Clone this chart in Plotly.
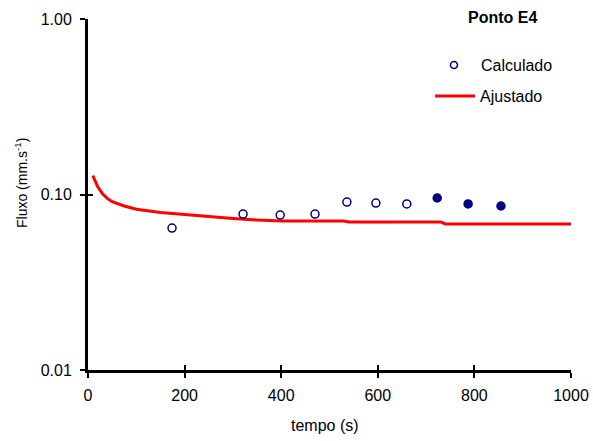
import plotly.graph_objects as go

# Data
calc_t = [174, 321, 398, 470, 536, 596, 660, 723, 787, 855]
calc_v = [0.0644, 0.0774, 0.0764, 0.0774, 0.0906, 0.0894, 0.0883, 0.0955, 0.0883, 0.0860]
calc_filled = [False, False, False, False, False, False, False, True, True, True]

fit_t = [10, 15, 20, 25, 30, 40, 50, 75, 100, 150, 200, 250, 300, 350, 400, 530, 540, 730, 740, 1000]
fit_v = [0.128, 0.118, 0.111, 0.106, 0.101, 0.095, 0.091, 0.086, 0.0825, 0.079, 0.077, 0.0745,
         0.073, 0.0715, 0.0707, 0.0707, 0.0698, 0.0698, 0.068, 0.068]

x_ticks = [0, 200, 400, 600, 800, 1000]
y_ticks = [0.01, 0.1, 1.0]
y_tick_labels = ["0.01", "0.10", "1.00"]

W, H = 593, 441
L, R, T, B = 88, 22, 19, 71

navy = "#000080"
font = "Liberation Sans, Arial, sans-serif"

fig = go.Figure()

fig.add_trace(go.Scatter(
    x=fit_t, y=fit_v, mode="lines", name="Ajustado",
    line=dict(color="#FF0000", width=3), showlegend=False))

fig.add_trace(go.Scatter(
    x=calc_t, y=calc_v, mode="markers", name="Calculado",
    marker=dict(symbol="circle", size=8,
                color=[navy if f else "white" for f in calc_filled],
                line=dict(color=navy, width=1.5)),
    showlegend=False))

# invisible trace for overlay axes (inside half of the crossing ticks)
fig.add_trace(go.Scatter(x=[None], y=[None], xaxis="x2", yaxis="y2",
                         showlegend=False, hoverinfo="skip"))

axis_common = dict(showgrid=False, zeroline=False, color="black")

fig.update_layout(
    width=W, height=H,
    margin=dict(l=L, r=R, t=T, b=B, autoexpand=False),
    paper_bgcolor="white", plot_bgcolor="white",
    font=dict(family=font, size=16, color="black"),
    xaxis=dict(range=[0, 1000], tickvals=x_ticks, ticks="outside", ticklen=5,
               tickwidth=2, showline=True, linewidth=3, linecolor="black",
               ticklabelstandoff=4, tickfont=dict(size=16),
               **axis_common),
    yaxis=dict(type="log", range=[-2, 0], tickvals=y_ticks, ticktext=y_tick_labels,
               ticks="outside", ticklen=5, tickwidth=2, showline=True, linewidth=3,
               linecolor="black", ticklabelstandoff=5, tickfont=dict(size=16),
               **axis_common),
    xaxis2=dict(overlaying="x", range=[0, 1000], tickvals=x_ticks, ticks="inside",
                ticklen=5, tickwidth=2, showticklabels=False, showline=False,
                tickcolor="black", **axis_common),
    yaxis2=dict(overlaying="y", type="log", range=[-2, 0], tickvals=y_ticks,
                ticks="inside", ticklen=5, tickwidth=2, showticklabels=False,
                showline=False, tickcolor="black", **axis_common),
)

pw, ph = W - L - R, H - T - B
def px(x):
    return (x - L) / pw
def py(y):
    return (H - B - y) / ph

def ann(x, y, text, size=16, xanchor="left", angle=0):
    fig.add_annotation(x=px(x), y=py(y), xref="paper", yref="paper", text=text,
                       showarrow=False, font=dict(size=size, family=font, color="black"),
                       xanchor=xanchor, yanchor="middle", textangle=angle, borderpad=0)

ann(502, 17, "<b>Ponto E4</b>", xanchor="center")
ann(480, 65, "Calculado")
ann(479, 96, "Ajustado")
ann(325, 425, "tempo (s)", xanchor="center")
ann(21, 183, "Fluxo (mm.s<sup>-1</sup>)", size=14, xanchor="center", angle=-90)

r = 3.5
fig.add_shape(type="circle", xref="paper", yref="paper",
              x0=px(454 - r), x1=px(454 + r), y0=py(65 + r), y1=py(65 - r),
              line=dict(color=navy, width=1.5), fillcolor="white")
fig.add_shape(type="line", xref="paper", yref="paper",
              x0=px(435), x1=px(475), y0=py(96), y1=py(96),
              line=dict(color="#FF0000", width=3))

fig.write_html("out.html")
